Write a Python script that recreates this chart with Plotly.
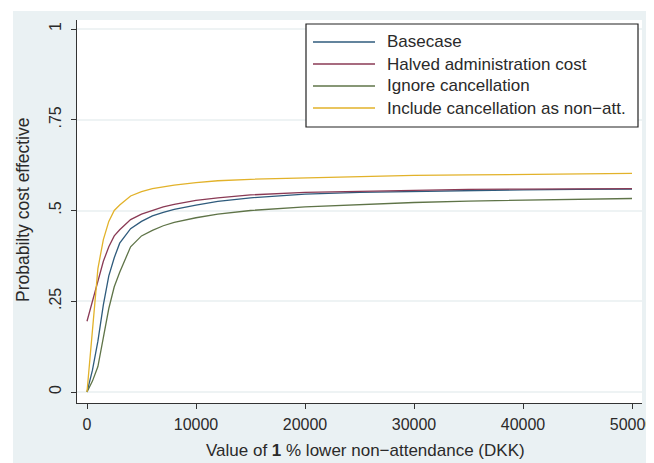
import plotly.graph_objects as go

x_vals = [0, 500, 1000, 1500, 2000, 2500, 3000, 4000, 5000, 6000, 7000, 8000,
          10000, 12000, 15000, 20000, 25000, 30000, 35000, 40000, 45000, 50000]

basecase = [0.0, 0.06, 0.14, 0.24, 0.32, 0.37, 0.41, 0.45, 0.47, 0.485, 0.495, 0.503,
            0.515, 0.525, 0.535, 0.545, 0.55, 0.553, 0.555, 0.557, 0.558, 0.559]
halved = [0.195, 0.25, 0.30, 0.36, 0.40, 0.43, 0.447, 0.475, 0.49, 0.50, 0.51, 0.517,
          0.528, 0.535, 0.543, 0.55, 0.553, 0.556, 0.558, 0.559, 0.56, 0.56]
ignore = [0.0, 0.03, 0.07, 0.15, 0.23, 0.29, 0.33, 0.40, 0.43, 0.445, 0.458, 0.467,
          0.48, 0.49, 0.50, 0.51, 0.517, 0.522, 0.526, 0.529, 0.531, 0.533]
include = [0.0, 0.18, 0.34, 0.42, 0.47, 0.50, 0.515, 0.54, 0.552, 0.56, 0.566, 0.57,
           0.577, 0.582, 0.586, 0.59, 0.594, 0.597, 0.598, 0.60, 0.601, 0.602]

series_names = ["Basecase", "Halved administration cost", "Ignore cancellation",
                "Include cancellation as non\u2212att."]
series_values = [basecase, halved, ignore, include]
colors = ["#2f5b7c", "#8a3a55", "#5f7448", "#e2b22a"]

x_ticks = [0, 10000, 20000, 30000, 40000, 50000]
y_ticks = [0, 0.25, 0.5, 0.75, 1]
y_ticklabels = ["0", ".25", ".5", ".75", "1"]

# The page body has an 8px margin, so the figure is drawn at (8, 8).
OFF = 8
PAGE_W, PAGE_H = 654, 463
W, H = PAGE_W - OFF, PAGE_H - OFF
# plot area in page pixels (reference coordinates)
L_ref, R_ref, T_ref, B_ref = 77, 642, 20, 403
L, R, T, B = L_ref - OFF, R_ref - OFF, T_ref - OFF, B_ref - OFF

def px(xp):  # page pixel x -> paper x
    return (xp - L_ref) / (R_ref - L_ref)

def py(yp):  # page pixel y -> paper y
    return (B_ref - yp) / (B_ref - T_ref)

fig = go.Figure()
for name, vals, c in zip(series_names, series_values, colors):
    fig.add_trace(go.Scatter(x=x_vals, y=vals, mode="lines", name=name,
                             line=dict(color=c, width=1.3), showlegend=False))

font_family = "Liberation Sans, Arial, sans-serif"
text_color = "#2a2a2a"
shapes = []
annotations = []
# white outer strips (top/left) of the original image
shapes.append(dict(type="rect", xref="paper", yref="paper", x0=px(0), x1=px(PAGE_W + 5),
                   y0=py(11), y1=py(0), fillcolor="white", line=dict(width=0), layer="below"))
shapes.append(dict(type="rect", xref="paper", yref="paper", x0=px(0), x1=px(13),
                   y0=py(PAGE_H + 5), y1=py(0), fillcolor="white", line=dict(width=0), layer="below"))
# legend box
shapes.append(dict(type="rect", xref="paper", yref="paper", x0=px(306), x1=px(638),
                   y0=py(127), y1=py(24), fillcolor="white",
                   line=dict(color="#222222", width=1.2), layer="above"))
row_y = [42, 64, 86, 108]
for name, c, ry in zip(series_names, colors, row_y):
    shapes.append(dict(type="line", xref="paper", yref="paper", x0=px(313), x1=px(375),
                       y0=py(ry), y1=py(ry), line=dict(color=c, width=1.3), layer="above"))
    annotations.append(dict(xref="paper", yref="paper", x=px(385), y=py(ry), text=name,
                            showarrow=False, xanchor="left", yanchor="middle",
                            font=dict(family=font_family, size=17, color=text_color)))

# axis titles
annotations.append(dict(xref="paper", yref="paper", x=px(365), y=py(450),
                        text="Value of <b>1</b> % lower non\u2212attendance (DKK)",
                        showarrow=False, xanchor="center", yanchor="middle",
                        font=dict(family=font_family, size=17, color=text_color)))
annotations.append(dict(xref="paper", yref="paper", x=px(23), y=py(210),
                        text="Probabilty cost effective", textangle=-90,
                        showarrow=False, xanchor="center", yanchor="middle",
                        font=dict(family=font_family, size=17.5, color=text_color)))

fig.update_layout(
    width=W, height=H,
    margin=dict(l=L, r=W - R, t=T, b=H - B, pad=0),
    paper_bgcolor="#eaf1f3",
    plot_bgcolor="white",
    font=dict(family=font_family, size=16, color=text_color),
    shapes=shapes,
    annotations=annotations,
    showlegend=False,
)
fig.update_xaxes(
    range=[(L_ref - 87) / 109 * 10000, (R_ref - 87) / 109 * 10000],
    tickvals=x_ticks, ticktext=[str(v) for v in x_ticks],
    ticks="outside", ticklen=5, tickcolor="#333333", tickwidth=1,
    showline=True, linecolor="#333333", linewidth=1.2,
    showgrid=False, zeroline=False, automargin=False,
    ticklabelstandoff=2, ticklabeloverflow="allow",
)
fig.update_yaxes(
    range=[(392 - B_ref) / 363, (392 - T_ref) / 363],
    tickvals=y_ticks, ticktext=y_ticklabels, tickangle=-90,
    ticks="outside", ticklen=5, tickcolor="#333333", tickwidth=1,
    showline=True, linecolor="#333333", linewidth=1.2,
    showgrid=True, gridcolor="#eef3f4", gridwidth=1.5, zeroline=False,
    automargin=False, ticklabelstandoff=4, ticklabeloverflow="allow",
)

fig.write_html("out.html")
